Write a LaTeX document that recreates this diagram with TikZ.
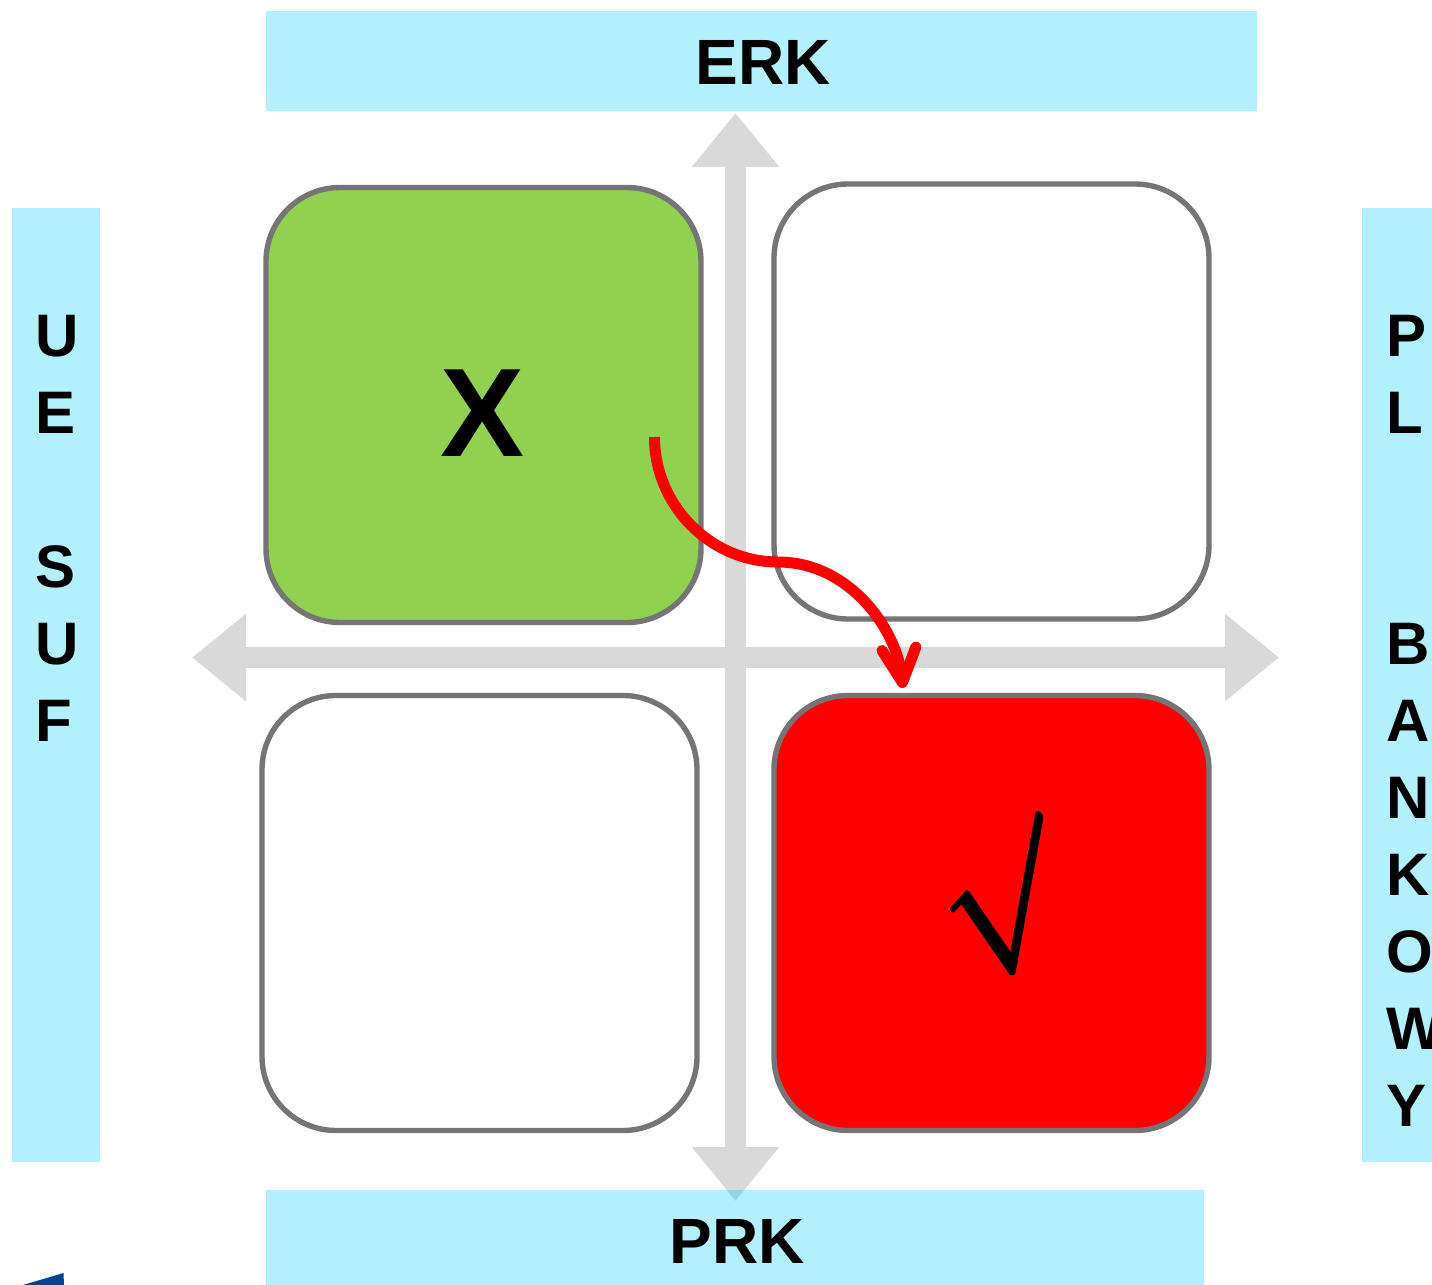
\documentclass[tikz,border=0pt]{standalone}
\usepackage{fontspec}
\setmainfont{Liberation Sans}
\usetikzlibrary{arrows.meta}
\definecolor{barblue}{RGB}{0,205,248}
\definecolor{axisgray}{RGB}{217,217,217}
\definecolor{boxgray}{RGB}{117,117,117}
\definecolor{boxgreen}{RGB}{146,208,80}
\definecolor{euroblue}{RGB}{0,68,148}

\tikzset{
	bar/.style={fill=barblue,fill opacity=0.3,text opacity=1,inner sep=0pt,font=\bfseries\fontsize{32}{32}\selectfont},
	barletters/.style={inner sep=0pt,align=left,anchor=north west,font=\bfseries\fontsize{30}{38.5}\selectfont},
	quad/.style={draw=boxgray,line width=2.7pt,rounded corners=37pt,minimum width=217.5pt,minimum height=217.5pt,inner sep=0pt},
	axis/.style={draw=axisgray,line width=10.5pt,-{Triangle[width=42pt,length=27pt]}}
}

\begin{document}
\begin{tikzpicture}[x=0.5pt,y=-0.5pt]
		\useasboundingbox (0,0) rectangle (1432,1285);
		\coordinate (westEnd) at (192,657.5);
		\coordinate (eastEnd) at (1279,657.5);
		\coordinate (northEnd) at (735.5,113);
		\coordinate (southEnd) at (735.5,1201);
		\coordinate (axisMid) at (735.5,657.5);
		% axes
		\draw[axis] (axisMid) -- (westEnd);
		\draw[axis] (axisMid) -- (eastEnd);
		\draw[axis] (axisMid) -- (northEnd);
		\draw[axis] (axisMid) -- (southEnd);
		% bars
		\node[bar,minimum width=495.5pt,minimum height=50pt] (erkBar) at (761.5,61) {\hspace{2pt}\raisebox{-11.75pt}[0pt][0pt]{ERK}};
		\node[bar,minimum width=469pt,minimum height=47.5pt] (prkBar) at (735,1237.5) {\hspace{2pt}\raisebox{-12.75pt}[0pt][0pt]{PRK}};
		\node[bar,minimum width=44pt,minimum height=477pt] (ueBar) at (56,685) {};
		\node[bar,minimum width=35pt,minimum height=477pt] (plBar) at (1397,685) {};
		\node[barletters] (ueText) at (35,315) {U\\E\\\mbox{}\\S\\U\\F};
		\node[barletters] (plText) at (1386,315) {P\\L\\\mbox{}\\\mbox{}\\B\\A\\N\\K\\O\\W\\Y};
		% quadrants
		\node[quad,fill=boxgreen] (greenBox) at (483.5,405) {};
		\node[quad,fill=white] (upperBox) at (991.5,401.5) {};
		\node[quad,fill=white] (lowerBox) at (479.5,913) {};
		\node[quad,fill=red] (redBox) at (991.5,913) {};
		\node[font=\bfseries\fontsize{63}{63}\selectfont,inner sep=0pt] (crossMark) at (483,413) {X};
		\node[inner sep=0pt,xslant=-0.27,transform shape] (rootMark) at (998,894) {\scalebox{6.5}[8.2]{\boldmath$\surd$}};
		% move
		\coordinate (moveStart) at (654.5,437);
		\coordinate (moveMid) at (778,562);
		\coordinate (moveEnd) at (903,688);
		\draw[red,line width=5.5pt,-{Straight Barb[length=17pt,width=17pt,round]}] (moveStart) .. controls (654.5,505) and (710,562) .. (moveMid) .. controls (850,562) and (897,630) .. (moveEnd);
		\fill[euroblue] (23,1285) -- (63.5,1273) -- (64,1285) -- cycle;
\end{tikzpicture}
\end{document}
